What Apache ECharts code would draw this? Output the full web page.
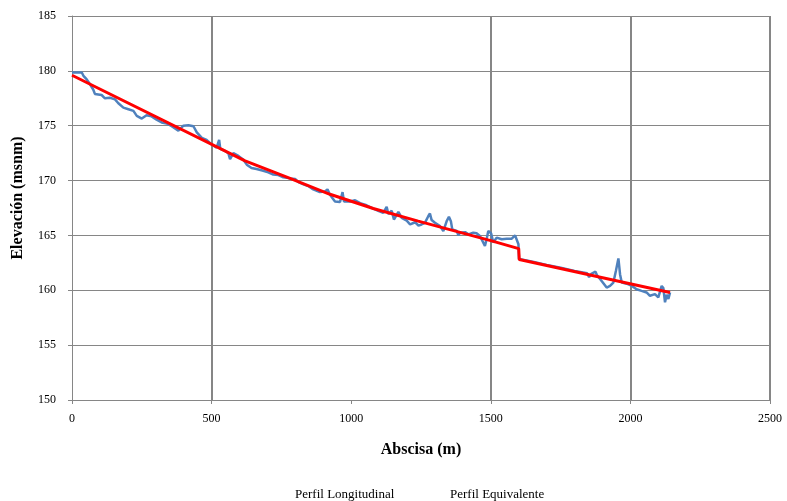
<!DOCTYPE html>
<html>
<head>
<meta charset="utf-8">
<script src="https://cdn.jsdelivr.net/npm/echarts@6/dist/echarts.min.js"></script>
<style>
  html, body { margin: 0; padding: 0; background: #fff; }
  #chart { width: 787px; height: 501px; }
</style>
</head>
<body>
<div id="chart"></div>
<script>
// Perfil longitudinal del cauce: abscisa (m) y elevación (msnm)
const longAbscisa = [0,35,41,52,64,76,82,106,118,136,154,166,184,202,220,232,250,267,285,303,321,339,357,381,399,417,435,447,465,482,500,518,527,531,548,560,566,578,596,614,626,643,661,685,703,721,739,757,781,799,811,829,846,864,888,906,915,924,942,960,969,974,996,1014,1032,1055,1079,1097,1115,1127,1133,1145,1153,1169,1181,1199,1211,1229,1241,1252,1264,1276,1282,1288,1300,1318,1330,1342,1350,1357,1362,1378,1384,1390,1408,1420,1437,1449,1461,1479,1485,1491,1501,1509,1521,1539,1557,1575,1587,1593,1599,1601,1650,1700,1750,1800,1845,1852,1860,1875,1880,1897,1915,1927,1939,1948,1957,1963,1969,1987,2005,2022,2040,2058,2070,2088,2100,2112,2118,2124,2130,2136,2142];
const longElevacion = [179.85,179.85,179.55,179.25,178.8,178.3,177.9,177.8,177.5,177.55,177.4,177.05,176.65,176.5,176.35,175.9,175.65,175.95,175.85,175.55,175.3,175.2,174.95,174.55,175.0,175.05,174.95,174.4,173.9,173.7,173.3,173.0,173.7,172.9,172.7,172.5,171.95,172.5,172.25,171.9,171.45,171.15,171.05,170.9,170.75,170.55,170.5,170.3,170.2,170.15,169.85,169.65,169.5,169.2,168.95,169.0,169.2,168.7,168.1,168.05,168.95,168.1,168.1,168.2,167.95,167.75,167.45,167.25,167.05,167.6,166.95,167.25,166.45,167.15,166.6,166.35,166.0,166.2,165.9,166.0,166.15,166.75,167.0,166.4,166.15,165.85,165.4,166.3,166.7,166.3,165.55,165.4,165.0,165.25,165.3,165.1,165.25,165.2,164.95,164.05,164.65,165.4,165.2,164.35,164.8,164.65,164.7,164.7,165.0,164.9,164.2,162.85,162.6,162.3,162.05,161.75,161.55,161.2,161.5,161.7,161.4,160.85,160.25,160.4,160.7,161.75,162.9,161.45,160.7,160.6,160.4,160.1,159.95,159.8,159.5,159.65,159.35,160.4,160.2,158.9,159.6,159.2,159.8];

// Perfil equivalente (tramos rectos)
const equivAbscisa = [0,620,781,924,1079,1240,1503,1600,1602,2142];
const equivElevacion = [179.6,171.8,170.2,168.75,167.45,166.3,164.5,163.8,162.8,159.8];

// Líneas verticales de referencia
const refAbscisas = [500,1500,2000,2500];

const seriesNames = ['Perfil Longitudinal', 'Perfil Equivalente'];
const yTitle = 'Elevación (msnm)';
const xTitle = 'Abscisa (m)';

const zip = (xs, ys) => xs.map((x, i) => [x, ys[i]]);

const chart = echarts.init(document.getElementById('chart'), null, { renderer: 'canvas' });
const serif = '"Liberation Serif", "DejaVu Serif", serif';
const gridGray = '#868686';

chart.setOption({
  animation: false,
  backgroundColor: '#ffffff',
  textStyle: { fontFamily: serif, color: '#000' },
  grid: { left: 72, right: 17, top: 16, bottom: 101 },
  legend: [
    {
      data: [seriesNames[0]], left: 285, top: 483, icon: 'rect', itemWidth: 0, itemHeight: 0, itemGap: 0,
      textStyle: { fontFamily: serif, fontSize: 13, color: '#000' }
    },
    {
      data: [seriesNames[1]], left: 440, top: 483, icon: 'rect', itemWidth: 0, itemHeight: 0, itemGap: 0,
      textStyle: { fontFamily: serif, fontSize: 13, color: '#000' }
    }
  ],
  graphic: [
    {
      type: 'text', x: 18, y: 198, rotation: Math.PI / 2,
      style: {
        text: yTitle, fontFamily: serif, fontSize: 16, fontWeight: 'bold', fill: '#000',
        align: 'center', verticalAlign: 'middle'
      }
    }
  ],
  xAxis: {
    type: 'value', min: 0, max: 2500, interval: 500,
    name: xTitle, nameLocation: 'middle', nameGap: 42,
    nameTextStyle: { fontFamily: serif, fontSize: 16, fontWeight: 'bold', color: '#000' },
    axisLine: { show: true, lineStyle: { color: gridGray, width: 1 } },
    axisTick: { show: true, length: 4, lineStyle: { color: gridGray } },
    axisLabel: { fontFamily: serif, fontSize: 12, color: '#000', margin: 13, formatter: v => String(v) },
    splitLine: { show: false }
  },
  yAxis: {
    type: 'value', min: 150, max: 185, interval: 5,
    axisLine: { show: true, lineStyle: { color: gridGray, width: 1 } },
    axisTick: { show: true, length: 4, lineStyle: { color: gridGray } },
    axisLabel: { fontFamily: serif, fontSize: 12, color: '#000', margin: 16, formatter: v => String(v) },
    splitLine: { show: true, lineStyle: { color: gridGray, width: 1 } }
  },
  series: [
    {
      name: seriesNames[0], type: 'line', data: zip(longAbscisa, longElevacion),
      showSymbol: false, symbol: 'none', z: 3,
      lineStyle: { color: '#4F81BD', width: 2.5 }, itemStyle: { color: '#4F81BD' },
      markLine: {
        silent: true, symbol: 'none', label: { show: false },
        lineStyle: { color: gridGray, width: 2, type: 'solid' },
        data: refAbscisas.map(v => ({ xAxis: v })),
        z: 1
      }
    },
    {
      name: seriesNames[1], type: 'line', data: zip(equivAbscisa, equivElevacion),
      showSymbol: false, symbol: 'none', z: 4,
      lineStyle: { color: '#FF0000', width: 3 }, itemStyle: { color: '#FF0000' }
    }
  ]
});
</script>
</body>
</html>
